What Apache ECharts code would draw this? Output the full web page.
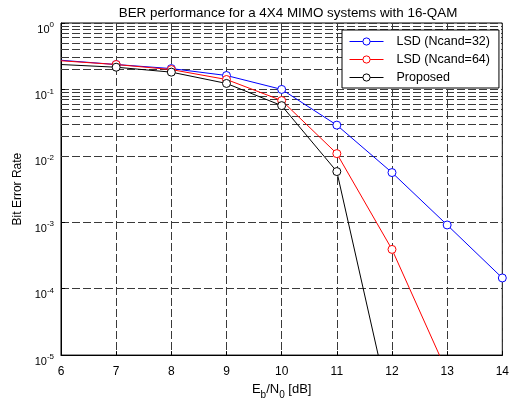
<!DOCTYPE html>
<html>
<head>
<meta charset="utf-8">
<script src="https://cdn.jsdelivr.net/npm/echarts@6/dist/echarts.min.js"></script>
<style>
  html, body { margin: 0; padding: 0; background: #fff; }
  #chart { width: 512px; height: 405px; }
</style>
</head>
<body>
<div id="chart"></div>
<script>
// Eb/N0 in dB
const snr = [6, 7, 8, 9, 10, 11, 12, 13, 14]
const lsd32 = [0.275, 0.237, 0.206, 0.162, 0.1, 0.029, 0.0056, 0.00091, 0.000145]
const lsd64 = [0.27, 0.237, 0.199, 0.141, 0.068, 0.0108, 0.00039, 0.0000055, null]
const proposed = [0.237, 0.216, 0.182, 0.123, 0.057, 0.0058, 0.0000012, null, null]
const seriesNames = ['LSD (Ncand=32)', 'LSD (Ncand=64)', 'Proposed']
const colors = ['#0000ff', '#ff0000', '#000000']

// minor log grid lines: 2..9 x 10^k
const minorGrid = []
for (let k = -5; k < 0; k++) {
  for (let m = 2; m <= 9; m++) minorGrid.push(m * Math.pow(10, k))
}

const gridLine = { color: '#3a3a3a', width: 1, type: [8, 3] }
const font = 'Liberation Sans, Arial, sans-serif'

const toPoints = (ys) =>
  snr.map((x, i) => ys[i] == null ? null : (i === 0 ? { value: [x, ys[i]], symbol: 'none' } : [x, ys[i]]))
    .filter((d) => d !== null)

const chart = echarts.init(document.getElementById('chart'))

const makeSeries = (name, ys, color, extra) => Object.assign({
  name: name,
  type: 'line',
  data: toPoints(ys),
  symbol: 'circle',
  symbolSize: 8,
  showSymbol: true,
  itemStyle: { color: '#fff', borderColor: color, borderWidth: 1 },
  lineStyle: { color: color, width: 1 },
  emphasis: { disabled: true },
  clip: true,
  z: 3,
}, extra || {})

chart.setOption({
  animation: false,
  backgroundColor: '#fff',
  textStyle: { fontFamily: font },
  title: {
    text: 'BER performance for a 4X4 MIMO systems with 16-QAM',
    left: 283,
    textAlign: 'center',
    top: 2,
    textStyle: { fontSize: 13.4, fontWeight: 'normal', color: '#000', fontFamily: font },
  },
  legend: {
    left: 342,
    top: 30,
    orient: 'vertical',
    backgroundColor: '#fff',
    borderColor: '#000',
    borderWidth: 1,
    borderRadius: 0,
    padding: [5, 9, 4, 7],
    itemWidth: 34,
    itemHeight: 9,
    itemGap: 5,
    itemStyle: { borderWidth: 1 },
    lineStyle: { width: 1 },
    textStyle: { fontSize: 12.5, color: '#000', fontFamily: font, padding: [0, 0, 0, 8] },
    data: seriesNames,
  },
  grid: {
    left: 61,
    right: 7,
    top: 23,
    bottom: 48,
    show: true,
    borderColor: '#000',
    borderWidth: 1,
  },
  xAxis: {
    type: 'value',
    min: 6,
    max: 14,
    interval: 1,
    axisLine: { lineStyle: { color: '#000' } },
    axisTick: { inside: true, length: 4, lineStyle: { color: '#000' } },
    axisLabel: { color: '#000', fontSize: 12, margin: 11, fontFamily: font },
    splitLine: { show: true, lineStyle: gridLine },
    name: '{n|E}{sub|b}{n|/N}{sub|0}{n| [dB]}',
    nameLocation: 'middle',
    nameGap: 22,
    nameTextStyle: {
      rich: {
        n: { fontSize: 13, color: '#000', fontFamily: font, lineHeight: 17, verticalAlign: 'top' },
        sub: { fontSize: 10, color: '#000', fontFamily: font, lineHeight: 17, verticalAlign: 'bottom' },
      },
    },
  },
  yAxis: {
    type: 'log',
    logBase: 10,
    min: 0.00001,
    max: 1,
    axisLine: { lineStyle: { color: '#000' } },
    axisTick: { inside: true, length: 4, lineStyle: { color: '#000' } },
    axisLabel: {
      color: '#000',
      margin: 7,
      padding: [10, 0, 0, 0],
      formatter: (v) => '{b|10}{s|' + Math.round(Math.log10(v)) + '}',
      rich: {
        b: { fontSize: 11, color: '#000', fontFamily: font, lineHeight: 14, verticalAlign: 'bottom' },
        s: { fontSize: 8, color: '#000', fontFamily: font, lineHeight: 8, verticalAlign: 'top' },
      },
    },
    splitLine: { show: true, lineStyle: gridLine },
    name: 'Bit Error Rate',
    nameLocation: 'middle',
    nameGap: 36,
    nameTextStyle: { fontSize: 12, color: '#000', fontFamily: font },
  },
  series: [
    makeSeries(seriesNames[0], lsd32, colors[0], {
      markLine: {
        silent: true,
        symbol: ['none', 'none'],
        label: { show: false },
        lineStyle: gridLine,
        emphasis: { disabled: true },
        z: 1,
        data: minorGrid.map((v) => ({ yAxis: v })),
      },
    }),
    makeSeries(seriesNames[1], lsd64, colors[1]),
    makeSeries(seriesNames[2], proposed, colors[2]),
  ],
})
</script>
</body>
</html>
